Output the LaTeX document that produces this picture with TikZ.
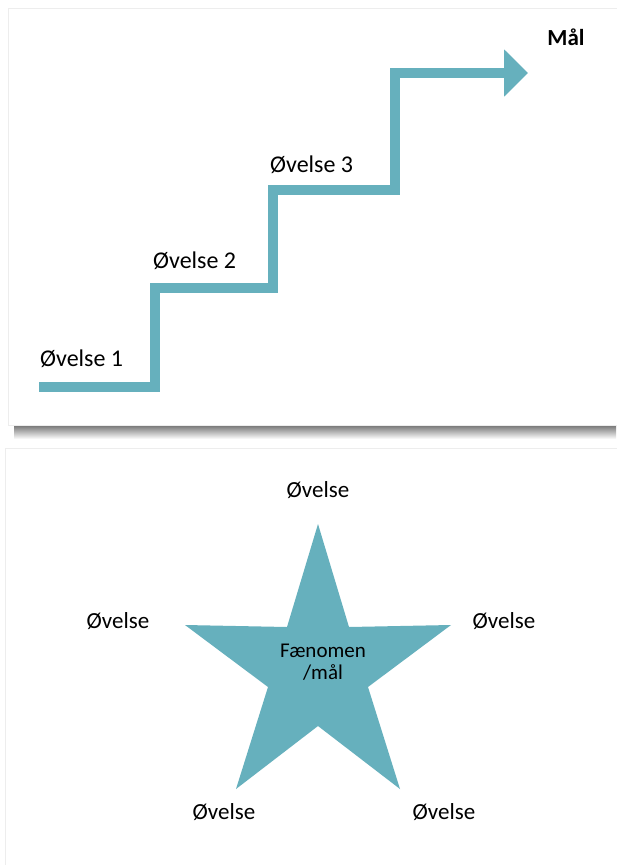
\documentclass[tikz,border=0pt]{standalone}
\usepackage{fontspec}
\setmainfont{Carlito}
\usetikzlibrary{arrows.meta,positioning}
\definecolor{aqua}{RGB}{102,176,189}

\begin{document}
\begin{tikzpicture}[x=1pt,y=-1pt,
ovelse/.style={font=\fontsize{23}{27}\selectfont, inner sep=0pt},
stepname/.style={font=\fontsize{24}{28}\selectfont, inner sep=0pt, anchor=base west},
stair/.style={draw=aqua, line width=10pt, -{Triangle[length=24pt,width=46pt]}},
panel/.style={fill=white, draw=black!7, line width=0.8pt}
]
\useasboundingbox (0,0) rectangle (616,865);
% top panel and its shadow
\shade[top color=black!55, bottom color=white] (14,425) rectangle (616,439);
\draw[panel] (8,8) rectangle (630,425);
\draw[panel] (5,448) rectangle (630,875);
% staircase
\coordinate (s0) at (39,387);
\coordinate (s1) at (155,288);
\coordinate (s2) at (273,190);
\coordinate (s3) at (395,73);
\coordinate (goal) at (528,73);
\draw[stair] (s0) -| (s1) -| (s2) -| (s3) -- (goal);
\node[stepname] (O1) at (40,366) {Øvelse 1};
\node[stepname] (O2) at (153,268) {Øvelse 2};
\node[stepname] (O3) at (270,172) {Øvelse 3};
\node[ovelse, anchor=base, font=\fontsize{23}{27}\selectfont\bfseries] (Mal) at (566,45) {Mål};
% star
\fill[aqua] (318,524) -- (349,627) -- (451,625) -- (368,687) -- (400,789)
    -- (318,726) -- (236,789) -- (268,687) -- (185,625) -- (287,627) -- cycle;
\node[inner sep=0pt, align=center, font=\fontsize{21}{22}\selectfont] (F) at (323,662) {Fænomen\\/mål};
\node[ovelse, anchor=base] (Otop) at (318,497) {Øvelse};
\node[ovelse, anchor=base] (Oleft) at (118,628) {Øvelse};
\node[ovelse, anchor=base] (Oright) at (504,628) {Øvelse};
\node[ovelse, anchor=base] (Obl) at (224,819) {Øvelse};
\node[ovelse, anchor=base] (Obr) at (444,819) {Øvelse};
\end{tikzpicture}
\end{document}
